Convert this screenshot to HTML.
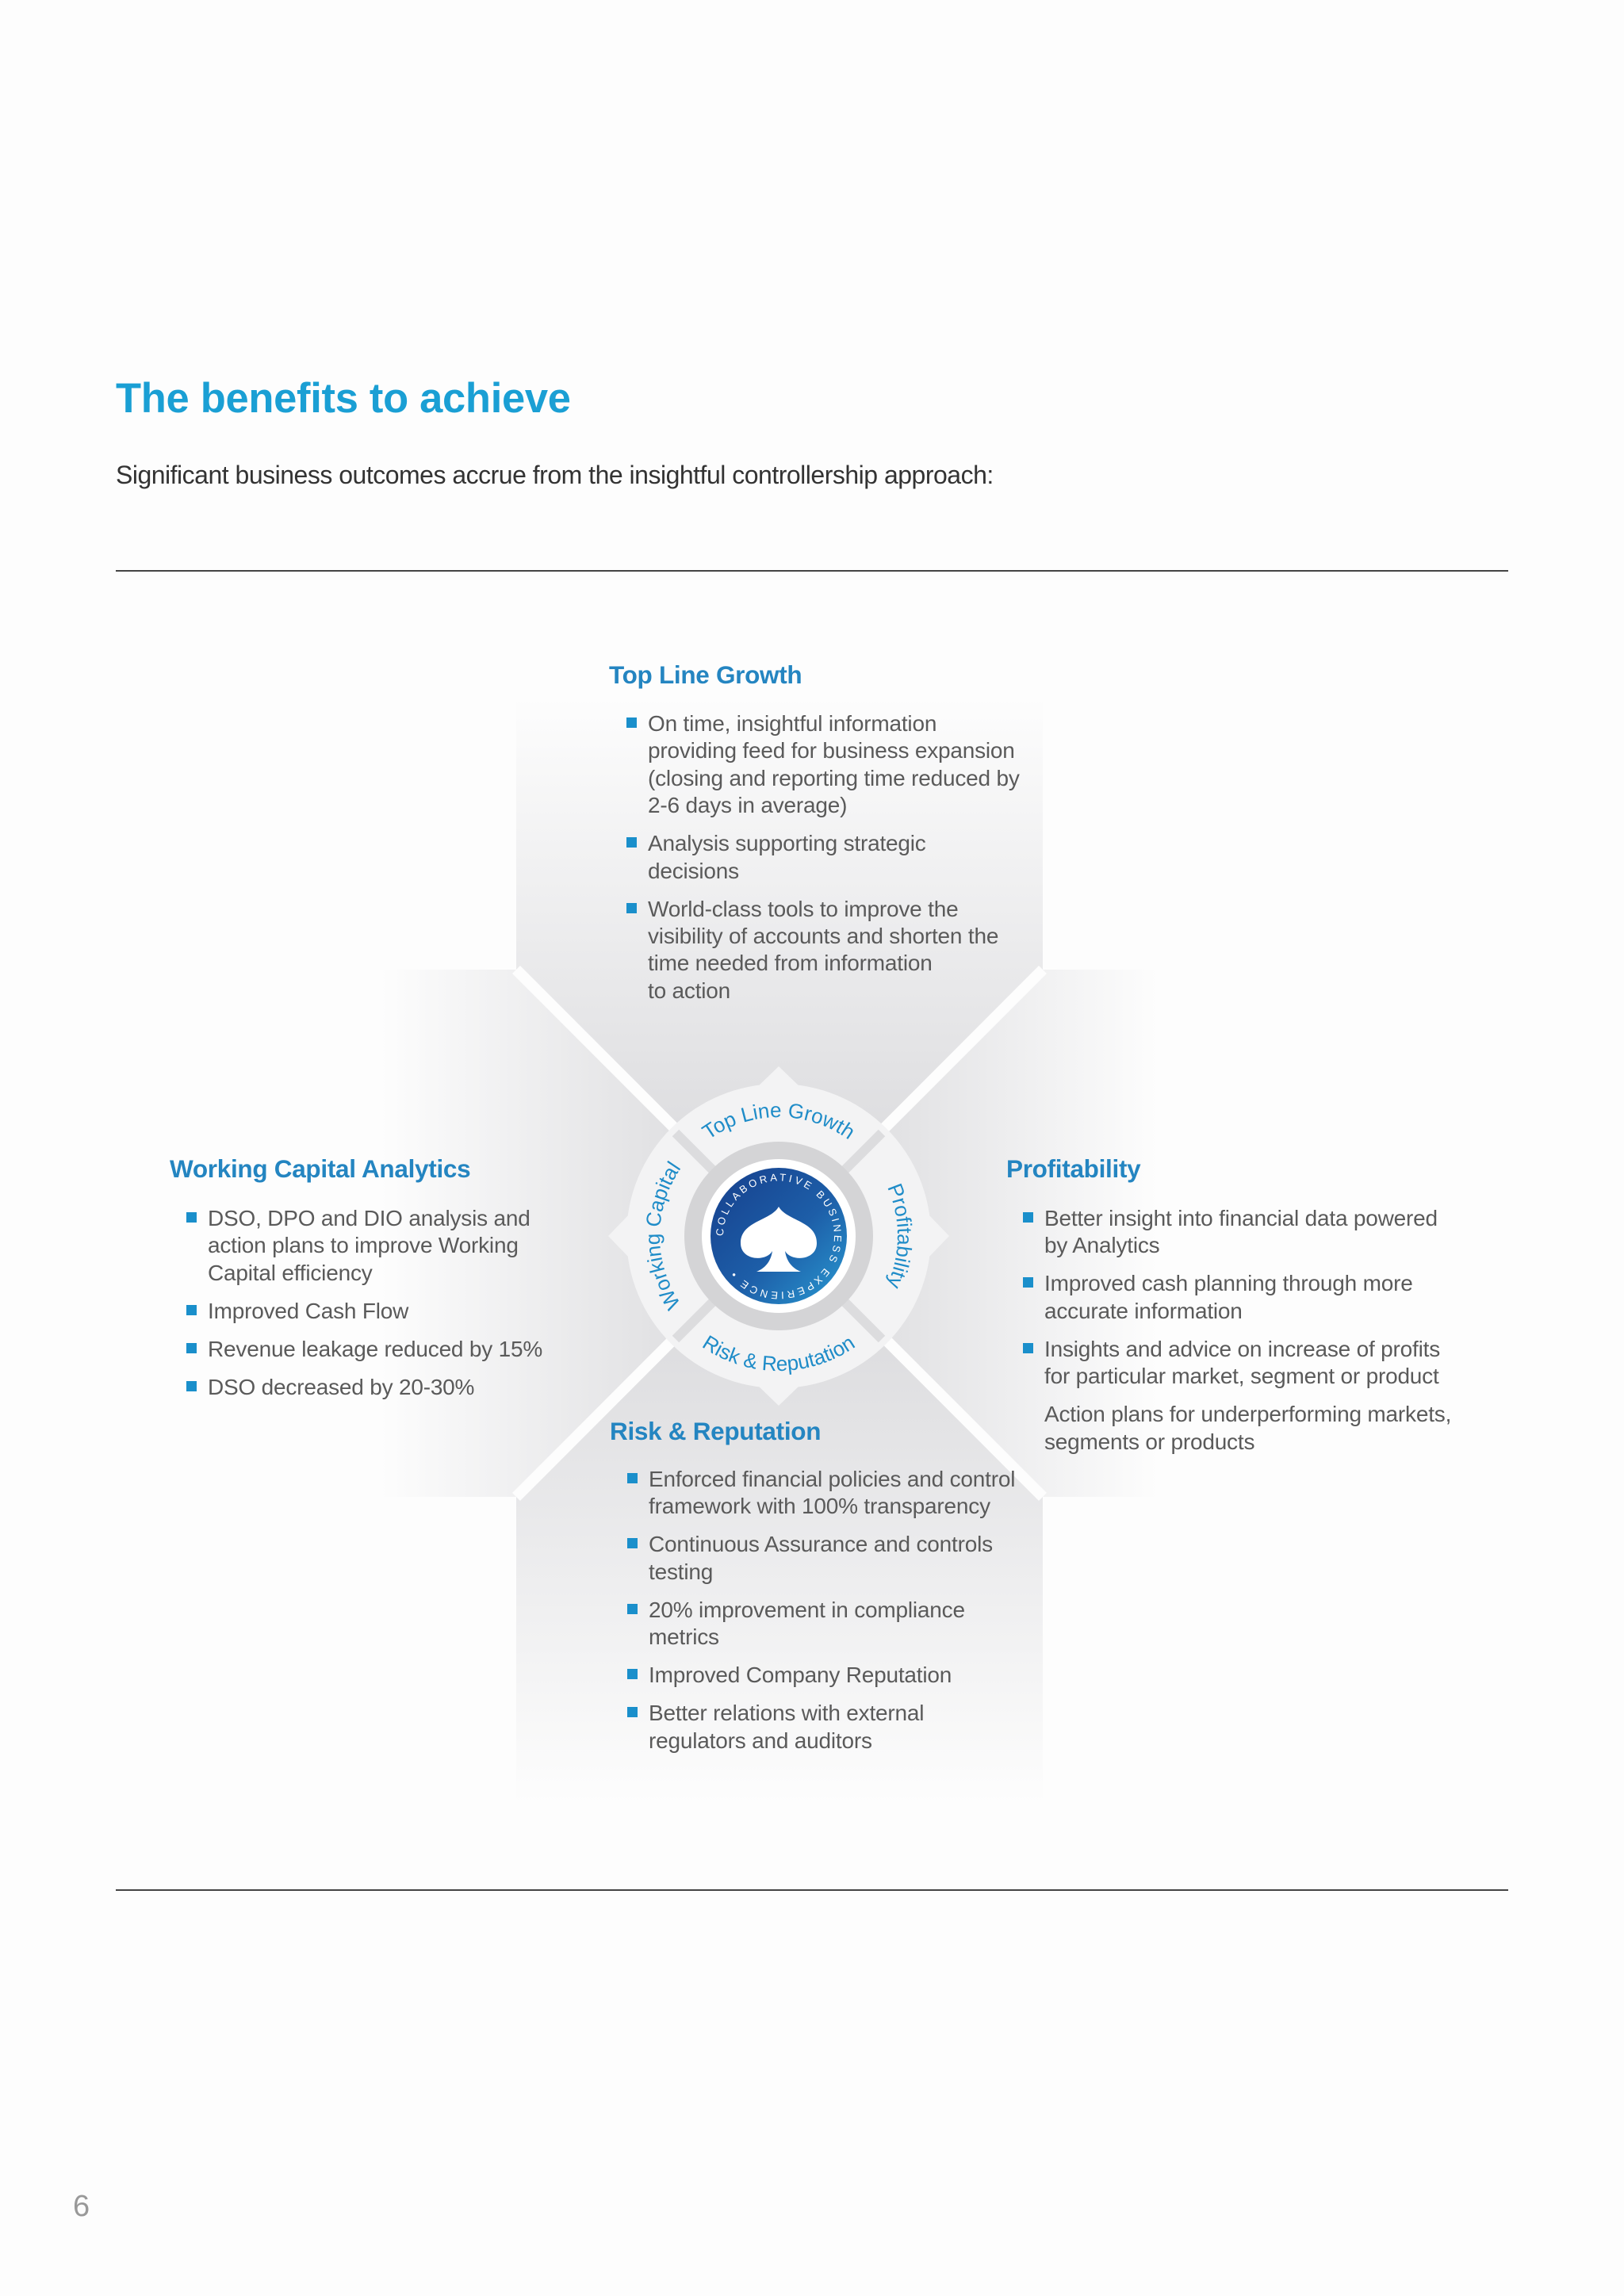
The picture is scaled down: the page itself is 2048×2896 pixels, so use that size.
<!DOCTYPE html>
<html><head><meta charset="utf-8"><style>
body{margin:0;width:2048px;height:2896px;background:#fdfdfd;position:relative;font-family:"Liberation Sans",Arial,sans-serif;overflow:hidden}
.a{position:absolute}
h1{position:absolute;left:146px;top:472px;margin:0;font-size:52.5px;font-weight:bold;color:#1a9fd4;letter-spacing:-0.3px}
.sub{left:146px;top:581px;font-size:32px;color:#333;letter-spacing:-0.5px}
.hr{left:146px;width:1756px;height:2px;background:#444}
.hd{font-size:31.5px;font-weight:bold;color:#2485c1;letter-spacing:-0.3px;white-space:nowrap}
ul{list-style:none;margin:0;padding:0;font-size:28px;line-height:34.4px;color:#5a5a5a;letter-spacing:-0.2px;white-space:nowrap}
li{position:relative;margin-bottom:13.6px;padding-left:27px}
li.b:before{content:"";position:absolute;left:0;top:9px;width:13px;height:13px;background:#1a8fcb}
</style></head><body>
<h1>The benefits to achieve</h1>
<div class="a sub">Significant business outcomes accrue from the insightful controllership approach:</div>
<div class="a hr" style="top:719px"></div>
<div class="a hr" style="top:2383px"></div>

<svg class="a" style="left:0;top:0" width="2048" height="2896" viewBox="0 0 2048 2896">
<defs>
<linearGradient id="gt" x1="0" y1="880" x2="0" y2="1560" gradientUnits="userSpaceOnUse"><stop offset="0" stop-color="#fdfdfd"/><stop offset="1" stop-color="#d6d6d9"/></linearGradient>
<linearGradient id="gb" x1="0" y1="2275" x2="0" y2="1560" gradientUnits="userSpaceOnUse"><stop offset="0" stop-color="#fdfdfd"/><stop offset="1" stop-color="#d6d6d9"/></linearGradient>
<linearGradient id="gl" x1="480" y1="0" x2="982" y2="0" gradientUnits="userSpaceOnUse"><stop offset="0" stop-color="#fdfdfd"/><stop offset="1" stop-color="#d6d6d9"/></linearGradient>
<linearGradient id="gr" x1="1460" y1="0" x2="982" y2="0" gradientUnits="userSpaceOnUse"><stop offset="0" stop-color="#fdfdfd"/><stop offset="1" stop-color="#d6d6d9"/></linearGradient>
<linearGradient id="gblue" x1="0" y1="0" x2="1" y2="1"><stop offset="0" stop-color="#163f8c"/><stop offset="0.55" stop-color="#1d5ea8"/><stop offset="1" stop-color="#2a9ad2"/></linearGradient>
<path id="pt" d="M832,1559 A150,150 0 0 1 1132,1559"/>
<path id="pb" d="M812,1559 A170,170 0 0 0 1152,1559"/>
<path id="pl" d="M982,1709 A150,150 0 0 1 982,1409"/>
<path id="pr" d="M982,1409 A150,150 0 0 1 982,1709"/>
<path id="pe" d="M912,1559 A70,70 0 1 1 912,1560"/>
</defs>
<polygon points="651,880 1315,880 1315,1223 982,1559 651,1223" fill="url(#gt)"/>
<polygon points="651,2275 1315,2275 1315,1888 982,1559 651,1888" fill="url(#gb)"/>
<polygon points="480,1223 651,1223 982,1559 651,1888 480,1888" fill="url(#gl)"/>
<polygon points="1460,1223 1315,1223 982,1559 1315,1888 1460,1888" fill="url(#gr)"/>
<g stroke="#fdfdfd" stroke-width="14">
<line x1="651" y1="1223" x2="1315" y2="1888"/>
<line x1="1315" y1="1223" x2="651" y2="1888"/>
</g>
<circle cx="982" cy="1559" r="192" fill="#f3f3f4"/>
<polygon points="982,1345 1010,1372 954,1372" fill="#f3f3f4"/>
<polygon points="982,1773 1010,1746 954,1746" fill="#f3f3f4"/>
<polygon points="767,1559 794,1531 794,1587" fill="#f3f3f4"/>
<polygon points="1197,1559 1170,1531 1170,1587" fill="#f3f3f4"/>
<g stroke="#dcdcde" stroke-width="12">
<line x1="852" y1="1429" x2="1112" y2="1689"/>
<line x1="1112" y1="1429" x2="852" y2="1689"/>
</g>
<circle cx="982" cy="1559" r="119" fill="#d4d4d6"/>
<circle cx="982" cy="1559" r="97" fill="#fff"/>
<circle cx="982" cy="1559" r="86" fill="url(#gblue)"/>
<path d="M982,1522 C992,1540 1030,1540 1030,1568 C1030,1590 998,1592 990,1578 C992,1592 1000,1600 1010,1604 L954,1604 C964,1600 972,1592 974,1578 C966,1592 934,1590 934,1568 C934,1540 972,1540 982,1522 Z" fill="#fff"/>
<text font-family="Liberation Sans,sans-serif" font-size="13" fill="#fff" letter-spacing="3.5"><textPath href="#pe">COLLABORATIVE BUSINESS EXPERIENCE •</textPath></text>
<g font-family="Liberation Sans,sans-serif" font-size="26" fill="#1f8cc8" text-anchor="middle">
<text><textPath href="#pt" startOffset="50%">Top Line Growth</textPath></text>
<text><textPath href="#pb" startOffset="50%">Risk &amp; Reputation</textPath></text>
<text><textPath href="#pl" startOffset="50%">Working Capital</textPath></text>
<text><textPath href="#pr" startOffset="50%">Profitability</textPath></text>
</g>
<text x="92" y="2795" font-family="Liberation Sans,sans-serif" font-size="38" fill="#999">6</text>
</svg>

<div class="a hd" style="left:768px;top:833px">Top Line Growth</div>
<ul class="a" style="left:790px;top:896px">
<li class="b">On time, insightful information<br>providing feed for business expansion<br>(closing and reporting time reduced by<br>2-6 days in average)</li>
<li class="b">Analysis supporting strategic<br>decisions</li>
<li class="b">World-class tools to improve the<br>visibility of accounts and shorten the<br>time needed from information<br>to action</li>
</ul>

<div class="a hd" style="left:214px;top:1456px">Working Capital Analytics</div>
<ul class="a" style="left:235px;top:1520px">
<li class="b">DSO, DPO and DIO analysis and<br>action plans to improve Working<br>Capital efficiency</li>
<li class="b">Improved Cash Flow</li>
<li class="b">Revenue leakage reduced by 15%</li>
<li class="b">DSO decreased by 20-30%</li>
</ul>

<div class="a hd" style="left:1269px;top:1456px">Profitability</div>
<ul class="a" style="left:1290px;top:1520px">
<li class="b">Better insight into financial data powered<br>by Analytics</li>
<li class="b">Improved cash planning through more<br>accurate information</li>
<li class="b">Insights and advice on increase of profits<br>for particular market, segment or product</li>
<li>Action plans for underperforming markets,<br>segments or products</li>
</ul>

<div class="a hd" style="left:769px;top:1787px">Risk &amp; Reputation</div>
<ul class="a" style="left:791px;top:1849px">
<li class="b">Enforced financial policies and control<br>framework with 100% transparency</li>
<li class="b">Continuous Assurance and controls<br>testing</li>
<li class="b">20% improvement in compliance<br>metrics</li>
<li class="b">Improved Company Reputation</li>
<li class="b">Better relations with external<br>regulators and auditors</li>
</ul>
</body></html>
